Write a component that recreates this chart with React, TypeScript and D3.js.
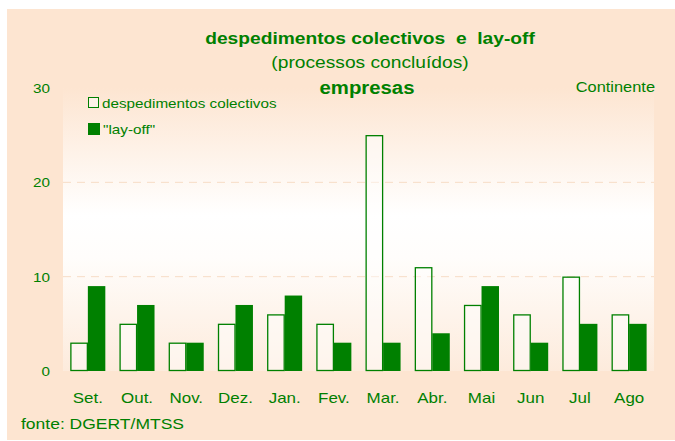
import React, { useEffect, useRef } from 'react';
import * as d3 from 'd3';

const months = ['Set.', 'Out.', 'Nov.', 'Dez.', 'Jan.', 'Fev.', 'Mar.', 'Abr.', 'Mai', 'Jun', 'Jul', 'Ago'];
const despedimentos = [3, 5, 3, 5, 6, 5, 25, 11, 7, 6, 10, 6];
const layOff = [9, 7, 3, 7, 8, 3, 3, 4, 9, 3, 5, 5];
const yTicks = [0, 10, 20, 30];
const gridTicks = [10, 20];

const GREEN = '#008000';
const PANEL = '#FDE5D1';
const FONT = '"Liberation Sans", Arial, sans-serif';
const STRETCH = 1.13; // reference text is a bit wide

const App: React.FC = () => {
  const svgRef = useRef<SVGSVGElement>(null);

  useEffect(() => {
    if (!svgRef.current) return;
    const svg = d3.select(svgRef.current);
    svg.selectAll('*').remove();

    const plot = { left: 63, right: 654, top: 88, bottom: 371 };

    const x = d3.scaleBand<string>()
      .domain(months)
      .range([plot.left, plot.right])
      .paddingInner(0.29)
      .paddingOuter(0.15);
    const sub = d3.scaleBand<string>()
      .domain(['d', 'l'])
      .range([0, x.bandwidth()]);
    const y = d3.scaleLinear().domain([0, 30]).range([plot.bottom, plot.top]);

    // gradient for plot area
    const defs = svg.append('defs');
    const grad = defs.append('linearGradient')
      .attr('id', 'plotGrad')
      .attr('x1', 0).attr('y1', 0).attr('x2', 0).attr('y2', 1);
    grad.append('stop').attr('offset', '0%').attr('stop-color', PANEL);
    grad.append('stop').attr('offset', '45%').attr('stop-color', '#ffffff');
    grad.append('stop').attr('offset', '60%').attr('stop-color', '#fffdfb');
    grad.append('stop').attr('offset', '100%').attr('stop-color', '#fdebdc');

    // panel
    svg.append('rect')
      .attr('x', 7).attr('y', 9)
      .attr('width', 668).attr('height', 431)
      .attr('fill', PANEL);

    svg.append('rect')
      .attr('x', plot.left).attr('y', plot.top)
      .attr('width', plot.right - plot.left)
      .attr('height', plot.bottom - plot.top)
      .attr('fill', 'url(#plotGrad)');

    // grid
    svg.append('g')
      .selectAll('line')
      .data(gridTicks)
      .enter()
      .append('line')
      .attr('x1', plot.left).attr('x2', plot.right)
      .attr('y1', d => y(d)).attr('y2', d => y(d))
      .attr('stroke', '#f7dcc6')
      .attr('stroke-width', 1)
      .attr('stroke-dasharray', '8,6');

    // text helper, stretched horizontally
    const addText = (
      parent: d3.Selection<any, any, any, any>,
      t: string, tx: number, ty: number, size: number, bold: boolean, anchor = 'middle'
    ) => {
      parent.append('text')
        .attr('transform', `translate(${tx},${ty}) scale(${STRETCH},1)`)
        .attr('text-anchor', anchor)
        .style('font-family', FONT)
        .style('font-size', `${size}px`)
        .style('font-weight', bold ? 'bold' : 'normal')
        .style('white-space', 'pre')
        .attr('fill', GREEN)
        .text(t);
    };

    // y labels
    const yg = svg.append('g');
    yTicks.forEach(v => addText(yg, String(v), 50, y(v) + 5, 13.5, false, 'end'));

    // bars
    const groups = svg.append('g')
      .selectAll('g')
      .data(months)
      .enter()
      .append('g')
      .attr('transform', d => `translate(${x(d)},0)`);

    groups.append('rect')
      .attr('x', 0.5)
      .attr('y', (_d, i) => y(despedimentos[i]) + 0.5)
      .attr('width', sub.bandwidth() - 1)
      .attr('height', (_d, i) => y(0) - y(despedimentos[i]) - 1)
      .attr('fill', '#ffffff')
      .attr('fill-opacity', 0.45)
      .attr('stroke', GREEN)
      .attr('stroke-width', 1.3);

    groups.append('rect')
      .attr('x', sub('l') as number)
      .attr('y', (_d, i) => y(layOff[i]))
      .attr('width', sub.bandwidth())
      .attr('height', (_d, i) => y(0) - y(layOff[i]))
      .attr('fill', GREEN);

    // x labels
    groups.each(function (d) {
      addText(d3.select(this), d, x.bandwidth() / 2, 403, 15, false);
    });

    // titles
    addText(svg, 'despedimentos colectivos  e  lay-off', 370, 44, 17, true);
    addText(svg, '(processos concluídos)', 370, 68, 17, false);
    addText(svg, 'empresas', 367, 94, 18, true);
    addText(svg, 'Continente', 655, 92, 14.5, false, 'end');
    addText(svg, 'fonte: DGERT/MTSS', 21, 429, 15.5, false, 'start');

    // legend
    const legend = svg.append('g');
    legend.append('rect')
      .attr('x', 88.5).attr('y', 97.5)
      .attr('width', 10).attr('height', 10)
      .attr('fill', '#ffffff').attr('fill-opacity', 0.45)
      .attr('stroke', GREEN).attr('stroke-width', 1);
    legend.append('rect')
      .attr('x', 88).attr('y', 123)
      .attr('width', 12).attr('height', 12)
      .attr('fill', GREEN);
    addText(legend, 'despedimentos colectivos', 102, 108, 13.5, false, 'start');
    addText(legend, '"lay-off"', 103, 134, 13.5, false, 'start');
  }, []);

  return (
    <svg
      ref={svgRef}
      width={675}
      height={441}
      style={{ position: 'absolute', left: 0, top: 0 }}
    />
  );
};

export default App;
